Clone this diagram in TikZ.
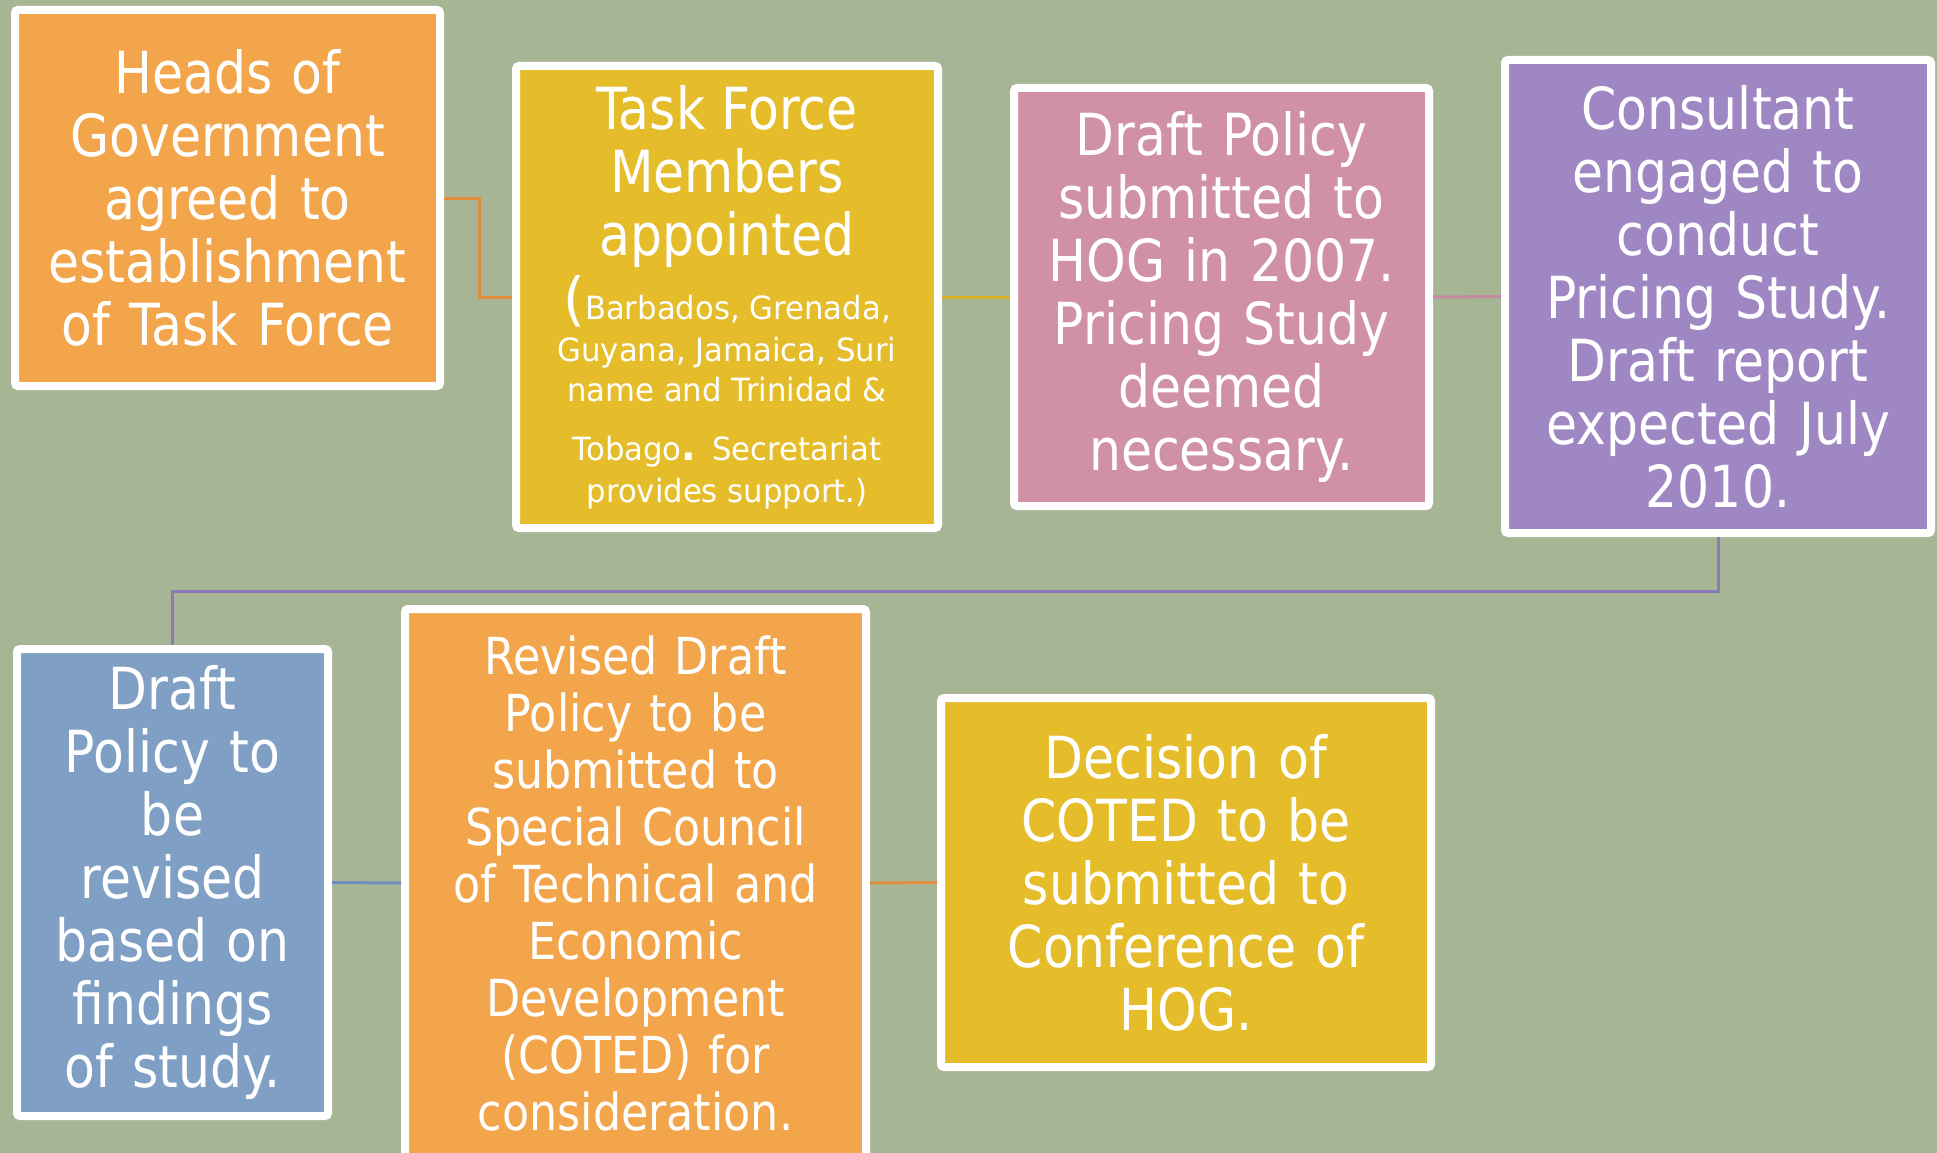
\documentclass[tikz,border=0pt]{standalone}
\usepackage{fontspec}
\setmainfont{DejaVu Sans}[FakeStretch=0.87]
\newfontfamily\smallfam{DejaVu Sans}[FakeStretch=0.96]
\setlength{\parindent}{0pt}
\definecolor{bgc}{HTML}{A6B593}
\definecolor{orangeF}{HTML}{F2A54A}
\definecolor{yellowF}{HTML}{E5BD2B}
\definecolor{pinkF}{HTML}{D090A6}
\definecolor{purpleF}{HTML}{9E87C2}
\definecolor{blueF}{HTML}{809FC4}
\definecolor{orangeL}{HTML}{DE8E3C}
\definecolor{yellowL}{HTML}{D6AE2A}
\definecolor{pinkL}{HTML}{C68A9F}
\definecolor{purpleL}{HTML}{8C79B6}
\definecolor{blueL}{HTML}{6F8EBB}
\newcommand{\bigtxt}{\fontsize{58}{63}\selectfont}
\newcommand{\midtxt}{\fontsize{51}{57}\selectfont}
\newcommand{\smalltxt}{\smallfam\fontsize{32}{40}\selectfont}
\begin{document}
\begin{tikzpicture}[x=1pt,y=-1pt,
  box/.style={draw=white, line width=8pt, rounded corners=3pt, text=white,
              inner sep=0pt, align=center},
  link/.style={line width=3pt}]
\fill[bgc] (0,0) rectangle (1937,1153);
\useasboundingbox (0,0) rectangle (1937,1153);

\node[box, fill=orangeF, minimum width=425pt, minimum height=376pt,
      text width=415pt, font=\bigtxt] (b1) at (227.5,198)
  {Heads of\\Government\\agreed to\\establishment\\of Task Force};

\node[draw=white, line width=8pt, rounded corners=3pt, text=white, inner sep=0pt,
      fill=yellowF, minimum width=422pt, minimum height=462pt] (b2) at (727,297)
  {\begin{minipage}{410pt}\centering\bigtxt
   Task Force\\Members\\appointed\\[24pt]
   \smalltxt\leavevmode\smash{\bigtxt(}Barbados, Grenada,\\[2pt]
   Guyana, Jamaica, Suri\\
   name and Trinidad \&\\[19pt]
   Tobago{\bfseries\fontsize{40}{40}\selectfont .}\hspace{16pt}Secretariat\\[2pt]
   provides support.)
   \end{minipage}};

\node[box, fill=pinkF, minimum width=415pt, minimum height=418pt,
      text width=405pt, font=\bigtxt] (b3) at (1221.5,297)
  {Draft Policy\\submitted to\\HOG in 2007.\\Pricing Study\\deemed\\necessary.};

\node[box, fill=purpleF, minimum width=426pt, minimum height=473pt,
      text width=416pt, font=\bigtxt] (b4) at (1718,296.5)
  {Consultant\\engaged to\\conduct\\Pricing Study.\\Draft report\\expected July\\2010.};

\node[box, fill=blueF, minimum width=311pt, minimum height=467pt,
      text width=303pt, font=\bigtxt] (b5) at (172.5,882.5)
  {Draft\\Policy to\\be\\revised\\based on\\findings\\of study.};

\node[box, fill=orangeF, minimum width=461pt, minimum height=548pt,
      text width=450pt, font=\midtxt] (b6) at (635.5,883)
  {Revised Draft\\Policy to be\\submitted to\\Special Council\\of Technical and\\Economic\\Development\\(COTED) for\\consideration.};

\node[box, fill=yellowF, minimum width=490pt, minimum height=369pt,
      text width=480pt, font=\bigtxt] (b7) at (1186,882.5)
  {Decision of\\COTED to be\\submitted to\\Conference of\\HOG.};

\draw[link, orangeL] (b1.east) -- ++(35,0) |- (b2.west);
\draw[link, yellowL] (b2.east) -- (b3.west);
\draw[link, pinkL] (b3.east) -- (b4.west);
\draw[link, purpleL] (b4.south) -- ++(0,54) -| (b5.north);
\draw[link, blueL] (b5.east) -- (b6.west);
\draw[link, orangeL] (b6.east) -- (b7.west);
\end{tikzpicture}
\end{document}
